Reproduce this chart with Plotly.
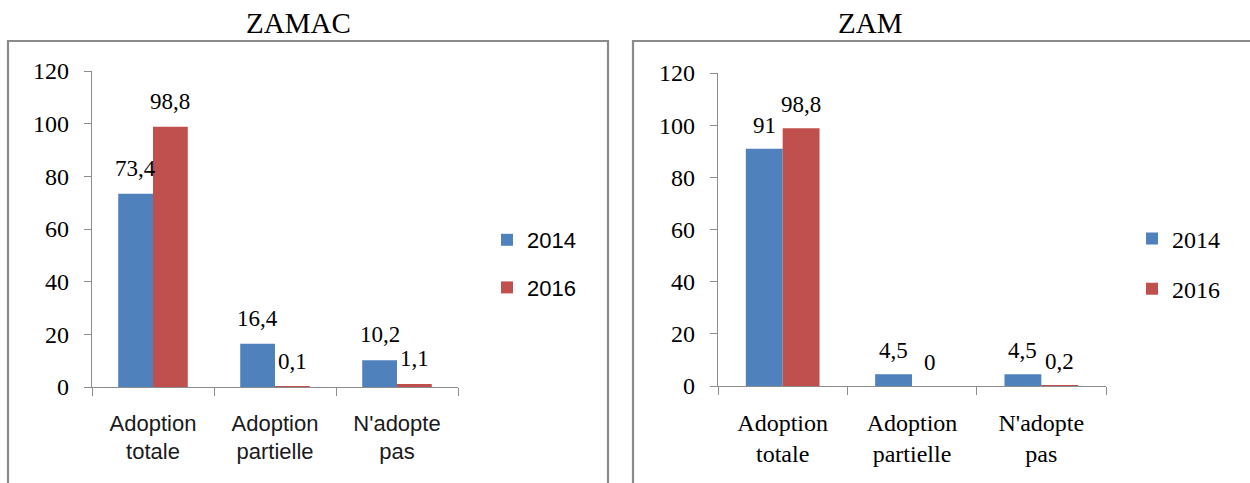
import plotly.graph_objects as go

categories = ["Adoption<br>totale", "Adoption<br>partielle", "N'adopte<br>pas"]
years = ["2014", "2016"]
zamac_2014 = [73.4, 16.4, 10.2]
zamac_2016 = [98.8, 0.1, 1.1]
zam_2014 = [91, 4.5, 4.5]
zam_2016 = [98.8, 0, 0.2]
colors = ["#4F81BD", "#C0504D"]

W, H = 1250, 483
SERIF = "Liberation Serif, Times New Roman, serif"
SANS = "Liberation Sans, Arial, sans-serif"
BARGAP = 0.43

# pixel layout
L = dict(x0=92, x1=458, y0=387, y1=71)
R = dict(x0=718, x1=1106, y0=386, y1=73)

def xd(p):
    return [p["x0"] / W, p["x1"] / W]

def yd(p):
    return [(H - p["y0"]) / H, (H - p["y1"]) / H]

fig = go.Figure()

panels = [
    ("x", "y", "legend", SANS, zamac_2014, zamac_2016, L),
    ("x2", "y2", "legend2", SERIF, zam_2014, zam_2016, R),
]

for xa, ya, leg, catfont, s14, s16, p in panels:
    for yr, vals, col in zip(years, [s14, s16], colors):
        fig.add_trace(go.Bar(
            x=categories, y=vals, name=yr, marker=dict(color=col, line=dict(width=0)),
            xaxis=xa, yaxis=ya, legend=leg, legendgroup=leg + yr,
        ))
    # data labels
    catw = (p["x1"] - p["x0"]) / len(categories)
    barw = catw * (1 - BARGAP) / 2
    for k, vals in enumerate([s14, s16]):
        sh = (-0.5 if k == 0 else 0.5) * barw
        for c, v in zip(categories, vals):
            fig.add_annotation(
                x=c, y=v, xref=xa, yref=ya, text=f"{v:g}".replace(".", ","),
                showarrow=False, xshift=sh, yshift=11 if xa == "x" else 9, yanchor="bottom",
                font=dict(family=SERIF, size=23, color="#000000"),
            )

axis_common = dict(showline=True, linecolor="#8c8c8c", linewidth=1.3, ticks="outside",
                   tickcolor="#8c8c8c", showgrid=False, zeroline=False, automargin=False)

fig.update_layout(
    width=W, height=H, margin=dict(l=0, r=0, t=0, b=0, autoexpand=False),
    font=dict(family=SERIF, size=24, color="#000000"),
    paper_bgcolor="white", plot_bgcolor="white",
    barmode="group", bargap=BARGAP, bargroupgap=0,
    xaxis=dict(domain=xd(L), anchor="y", tickson="boundaries", ticklen=8,
               tickfont=dict(family=SANS, size=22, color="#1a1a1a"), ticklabelstandoff=16,
               **axis_common),
    yaxis=dict(domain=yd(L), anchor="x", range=[0, 120], dtick=20, ticklen=7,
               tickfont=dict(family=SERIF, size=24, color="#000000"), ticklabelstandoff=10,
               **axis_common),
    xaxis2=dict(domain=xd(R), anchor="y2", tickson="boundaries", ticklen=8,
                tickfont=dict(family=SERIF, size=24, color="#000000"), ticklabelstandoff=15,
                **axis_common),
    yaxis2=dict(domain=yd(R), anchor="x2", range=[0, 120], dtick=20, ticklen=7,
                tickfont=dict(family=SERIF, size=24, color="#000000"), ticklabelstandoff=10,
                **axis_common),
    legend=dict(x=487 / W, y=(H - 264) / H, xanchor="left", yanchor="middle",
                font=dict(family=SANS, size=22, color="#000000"), tracegroupgap=16,
                bgcolor="rgba(0,0,0,0)"),
    legend2=dict(x=1132 / W, y=(H - 264) / H, xanchor="left", yanchor="middle",
                 font=dict(family=SERIF, size=24, color="#000000"), tracegroupgap=16,
                 bgcolor="rgba(0,0,0,0)"),
    showlegend=True,
)

# panel frames
fig.add_shape(type="rect", xref="paper", yref="paper",
              x0=8 / W, x1=608 / W, y0=-0.05, y1=(H - 41) / H,
              line=dict(color="#8a8a8a", width=2.2), fillcolor="rgba(0,0,0,0)", layer="below")
fig.add_shape(type="rect", xref="paper", yref="paper",
              x0=633 / W, x1=1.02, y0=-0.05, y1=(H - 41) / H,
              line=dict(color="#8a8a8a", width=2.2), fillcolor="rgba(0,0,0,0)", layer="below")

# titles
fig.add_annotation(x=244 / W, y=(H - 23) / H, xref="paper", yref="paper", text="ZAMAC",
                   showarrow=False, yanchor="middle",
                   font=dict(family=SERIF, size=29, color="#000000"))
fig.add_annotation(x=904 / W, y=(H - 23) / H, xref="paper", yref="paper", text="ZAM",
                   showarrow=False, yanchor="middle",
                   font=dict(family=SERIF, size=29, color="#000000"))

fig.write_html("out.html", config={"displayModeBar": False},
               post_script="document.body.style.margin='0px';")
